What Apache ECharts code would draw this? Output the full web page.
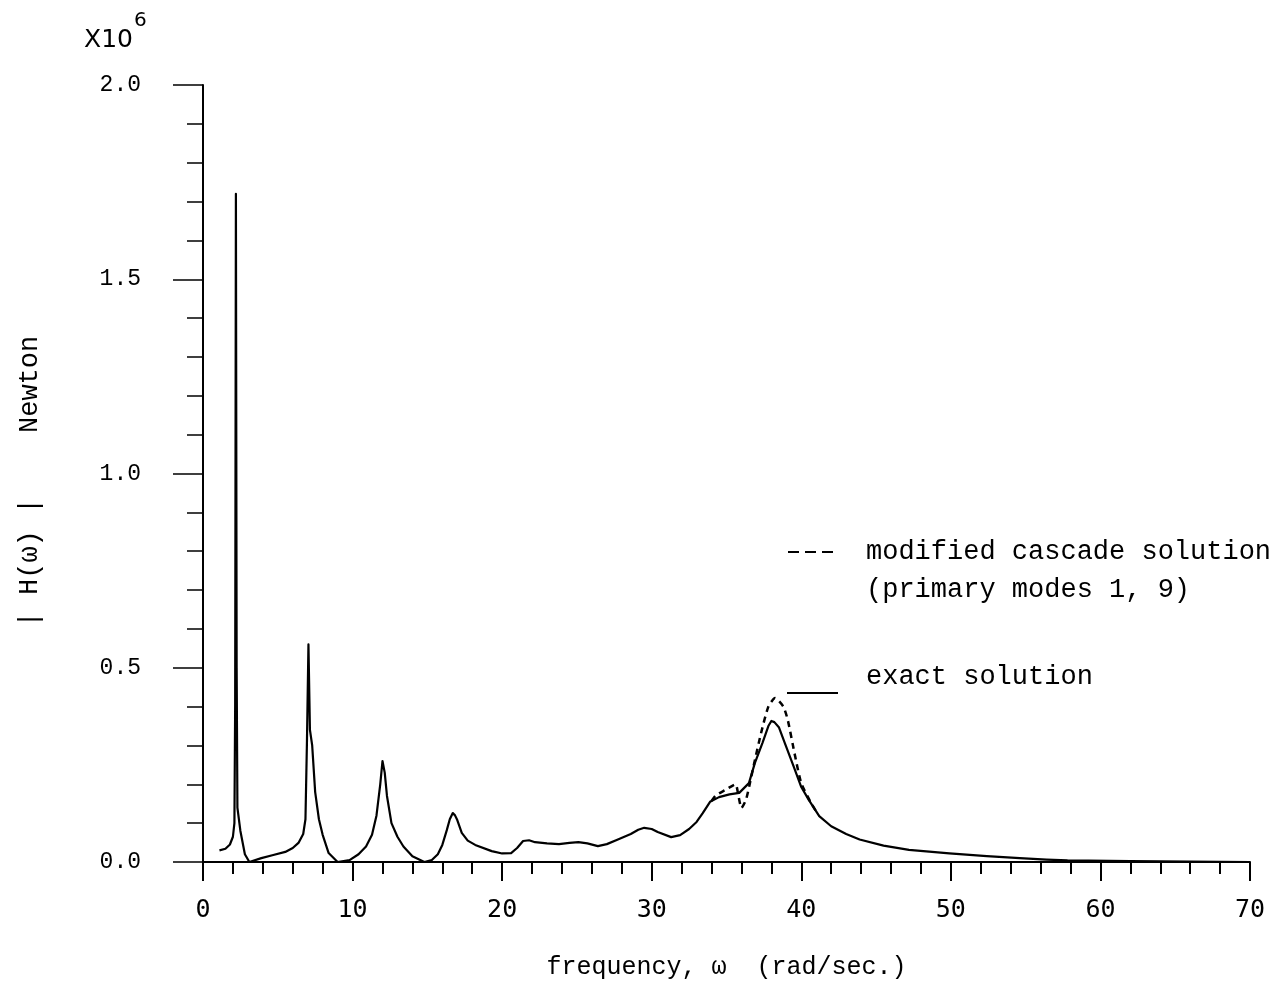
<!DOCTYPE html>
<html>
<head>
<meta charset="utf-8">
<script src="https://cdn.jsdelivr.net/npm/echarts@6/dist/echarts.min.js"></script>
<style>
  html, body { margin: 0; padding: 0; background: #fff; }
  #chart { width: 1279px; height: 989px; }
</style>
</head>
<body>
<div id="chart"></div>
<script>
// frequency (rad/sec) and |H(w)| in units of 1e6 Newton
var exactFreq = [1.1, 1.5, 1.8, 2.0, 2.1, 2.15, 2.2, 2.25, 2.3, 2.5, 2.8, 3.1, 3.9, 4.7, 5.5, 6.0, 6.4, 6.7, 6.85, 6.95,
    7.05, 7.15, 7.3, 7.5, 7.75, 8.0, 8.4, 9.0, 9.8, 10.4, 10.9, 11.3, 11.6, 11.85, 12.0, 12.15, 12.3, 12.6, 13.0, 13.4,
    14.0, 14.8, 15.3, 15.7, 16.0, 16.3, 16.5, 16.7, 16.85, 17.0, 17.3, 17.7, 18.2, 19.3, 20.0, 20.6, 21.0, 21.4, 21.8, 22.2,
    23.0, 23.8, 24.5, 25.1, 25.7, 26.4, 27.0, 27.7, 28.6, 29.1, 29.5, 30.0, 30.4, 31.3, 31.9, 32.5, 33.0, 33.4, 33.9, 34.5,
    35.2, 35.85, 36.5, 36.9, 37.4, 37.8, 38.0, 38.2, 38.5, 38.9, 39.5, 40.0, 40.5, 41.2, 42.0, 43.0, 43.9, 45.5, 47.2, 49.9,
    52.4, 54.6, 56.4, 57.8, 62.0, 70.0];
var exactAmp = [0.03, 0.034, 0.045, 0.065, 0.1, 0.4, 1.72, 0.5, 0.14, 0.08, 0.02, 0.0, 0.01, 0.018, 0.026, 0.036, 0.05, 0.072, 0.11, 0.31,
    0.56, 0.34, 0.3, 0.18, 0.11, 0.07, 0.023, 0.0, 0.005, 0.02, 0.04, 0.07, 0.12, 0.2, 0.26, 0.23, 0.17, 0.1, 0.065, 0.04,
    0.015, 0.0, 0.005, 0.02, 0.044, 0.082, 0.11, 0.126, 0.12, 0.108, 0.075, 0.055, 0.044, 0.028, 0.022, 0.023, 0.036, 0.054, 0.056, 0.051,
    0.048, 0.046, 0.049, 0.051, 0.048, 0.041, 0.046, 0.057, 0.072, 0.083, 0.088, 0.085, 0.077, 0.064, 0.069, 0.085, 0.103, 0.125, 0.155, 0.167,
    0.174, 0.178, 0.203, 0.255, 0.306, 0.35, 0.363, 0.36, 0.347, 0.306, 0.245, 0.193, 0.16, 0.118, 0.092, 0.072, 0.058, 0.042, 0.031, 0.022,
    0.015, 0.01, 0.006, 0.004, 0.002, 0.0];

// modified cascade solution, only visible where it leaves the exact curve
var cascadeFreq = [34.0, 34.3, 34.9, 35.6, 35.8, 36.0, 36.3, 36.55, 36.8, 37.3, 37.8, 38.25, 38.8, 39.1, 39.6, 40.0, 40.65, 41.0];
var cascadeAmp = [0.157, 0.172, 0.185, 0.2, 0.17, 0.139, 0.16, 0.2, 0.245, 0.33, 0.4, 0.422, 0.4, 0.365, 0.27, 0.203, 0.152, 0.13];

var yTickLabels = ['0.0', '0.5', '1.0', '1.5', '2.0'];

function zip(xs, ys) {
    return xs.map(function (x, i) { return [x, ys[i]]; });
}

var dom = document.getElementById('chart');
var myChart = echarts.init(dom);
var mono = '"Liberation Mono", "DejaVu Sans Mono", monospace';

var option = {
    backgroundColor: '#fff',
    animation: false,
    grid: { left: 203, right: 29, top: 85, bottom: 127 },
    xAxis: {
        type: 'value',
        min: 0,
        max: 70,
        interval: 10,
        name: 'frequency, \u03c9  (rad/sec.)',
        nameLocation: 'middle',
        nameGap: 93,
        nameTextStyle: { fontFamily: mono, fontSize: 25, color: '#000' },
        axisLine: { show: true, lineStyle: { color: '#000', width: 2 } },
        axisTick: { show: true, inside: false, length: 19, lineStyle: { color: '#000', width: 2 } },
        minorTick: { show: true, splitNumber: 5, length: 12, lineStyle: { color: '#000', width: 2 } },
        splitLine: { show: false },
        axisLabel: {
            margin: 36,
            fontFamily: '"DejaVu Sans Mono", monospace',
            fontSize: 25,
            color: '#000'
        }
    },
    yAxis: {
        type: 'value',
        min: 0,
        max: 2,
        interval: 0.5,
        name: '| H(\u03c9) |    Newton\u00a0',
        nameLocation: 'middle',
        nameRotate: 90,
        nameGap: 160,
        nameTextStyle: { fontFamily: mono, fontSize: 27, color: '#000' },
        axisLine: { show: true, lineStyle: { color: '#000', width: 2 } },
        axisTick: { show: true, inside: false, length: 30, lineStyle: { color: '#000', width: 1.5 } },
        minorTick: { show: true, splitNumber: 5, length: 16, lineStyle: { color: '#000', width: 1.5 } },
        splitLine: { show: false },
        axisLabel: {
            margin: 62,
            fontFamily: mono,
            fontSize: 23,
            color: '#000',
            formatter: function (v) { return yTickLabels[Math.round(v / 0.5)]; }
        }
    },
    graphic: [
        // X10^6 multiplier
        { type: 'text', left: 84, top: 28, style: { text: 'X10', font: '25px "DejaVu Sans"', fill: '#000' } },
        { type: 'text', left: 134, top: 11, style: { text: '6', font: '20px "DejaVu Sans"', fill: '#000' } },
        // legend
        { type: 'line', shape: { x1: 788, y1: 552, x2: 838, y2: 552 },
          style: { stroke: '#000', lineWidth: 2, lineDash: [11, 6] } },
        { type: 'text', left: 866, top: 538, style: { text: 'modified cascade solution', font: '27px ' + mono, fill: '#000' } },
        { type: 'text', left: 866, top: 576, style: { text: '(primary modes 1, 9)', font: '27px ' + mono, fill: '#000' } },
        { type: 'line', shape: { x1: 787, y1: 693, x2: 838, y2: 693 },
          style: { stroke: '#000', lineWidth: 2 } },
        { type: 'text', left: 866, top: 663, style: { text: 'exact solution', font: '27px ' + mono, fill: '#000' } }
    ],
    series: [
        {
            name: 'exact solution',
            type: 'line',
            data: zip(exactFreq, exactAmp),
            showSymbol: false,
            smooth: false,
            lineStyle: { color: '#000', width: 2.2, join: 'round' },
            z: 3
        },
        {
            name: 'modified cascade solution',
            type: 'line',
            data: zip(cascadeFreq, cascadeAmp),
            showSymbol: false,
            smooth: 0.2,
            lineStyle: { color: '#000', width: 2.5, type: [6, 5] },
            z: 2
        }
    ]
};

myChart.setOption(option);
</script>
</body>
</html>
